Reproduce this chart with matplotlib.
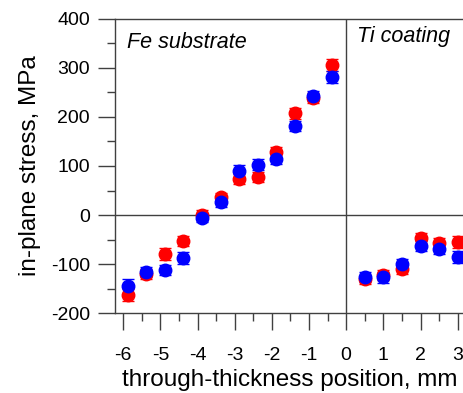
import numpy as np
import matplotlib.pyplot as plt
from matplotlib.ticker import MultipleLocator

plt.rcParams['font.family'] = ['Liberation Sans', 'DejaVu Sans']

# Fe substrate side (negative positions)
fe_x = [-5.88, -5.38, -4.88, -4.38, -3.88, -3.38, -2.88, -2.38, -1.88, -1.38, -0.88, -0.38]
fe_red = [-163, -120, -80, -52, 0, 36, 74, 78, 129, 207, 238, 305]
fe_blue = [-145, -116, -111, -87, -5, 26, 90, 103, 114, 182, 243, 281]
fe_red_err = [12, 10, 12, 10, 10, 10, 10, 10, 10, 12, 10, 12]
fe_blue_err = [14, 10, 10, 12, 10, 10, 12, 12, 10, 10, 10, 12]

# Ti coating side
ti_x = [0.5, 1.0, 1.5, 2.0, 2.5, 3.0]
ti_red = [-131, -122, -109, -46, -57, -55]
ti_blue = [-126, -127, -99, -63, -70, -85]
ti_red_err = [10, 10, 10, 10, 10, 12]
ti_blue_err = [10, 12, 10, 10, 10, 12]

red = '#ff0000'
blue = '#0000ff'
axcol = '#404040'

fig = plt.figure(figsize=(4.64, 3.93), dpi=100)
ax = fig.add_axes([115/464, 1 - 313.3/393, 349/464, 294.6/393])

x_all = fe_x + ti_x
for y, e, c in [(fe_red + ti_red, fe_red_err + ti_red_err, red),
                (fe_blue + ti_blue, fe_blue_err + ti_blue_err, blue)]:
    ax.errorbar(x_all, y, yerr=e, fmt='o', color=c, ms=9, mec=c,
                ecolor=c, elinewidth=1, capsize=4.5, capthick=1, zorder=3)

ax.axhline(0, color=axcol, lw=1, zorder=1)
ax.axvline(0, color=axcol, lw=1, zorder=1)

ax.set_xlim(-6.22, 3.17)
ax.set_ylim(-200, 400)
ax.xaxis.set_minor_locator(MultipleLocator(0.5))
ax.yaxis.set_minor_locator(MultipleLocator(50))

ax.tick_params(which='major', direction='out', length=12, width=1, color=axcol, labelsize=14)
ax.tick_params(which='minor', direction='out', length=6, width=1, color=axcol)
ax.tick_params(axis='x', which='major', pad=12)
ax.tick_params(axis='y', which='major', pad=6)
ax.set_xticks([-6, -5, -4, -3, -2, -1, 0, 1, 2, 3])
ax.set_xticklabels(['-6', '-5', '-4', '-3', '-2', '-1', '0', '1', '2', '3'])
ax.set_yticks([-200, -100, 0, 100, 200, 300, 400])
ax.set_yticklabels(['-200', '-100', '0', '100', '200', '300', '400'])

for s in ['left', 'bottom', 'top']:
    ax.spines[s].set_color(axcol)
    ax.spines[s].set_linewidth(1)
ax.spines['right'].set_visible(False)

ax.set_xlabel('through-thickness position, mm', fontsize=17.5, labelpad=4)
ax.set_ylabel('in-plane stress, MPa', fontsize=17.5, labelpad=7)

ax.text(-5.9, 352, 'Fe substrate', fontsize=15.5, style='italic', va='center', ha='left')
ax.text(0.28, 363, 'Ti coating', fontsize=15.5, style='italic', va='center', ha='left')

fig.savefig('out.png', dpi=100)
